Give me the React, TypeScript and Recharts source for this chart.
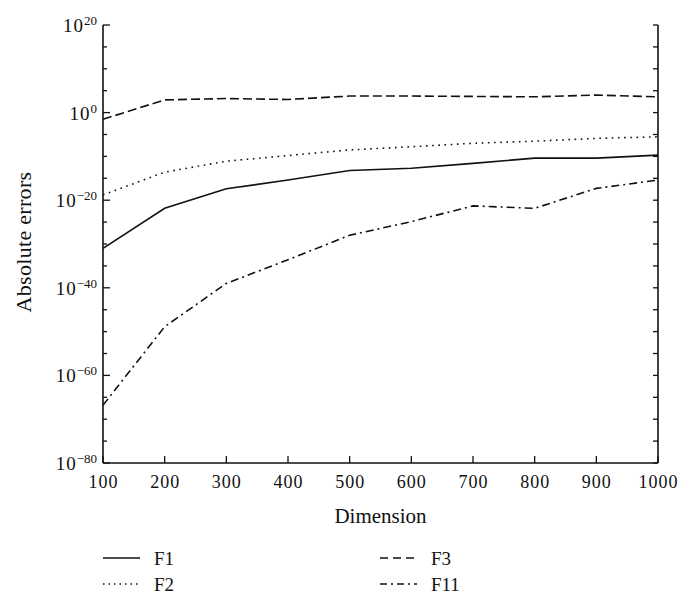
import React from 'react';
import { LineChart, Line, XAxis, YAxis } from 'recharts';

const dimensions = [100, 200, 300, 400, 500, 600, 700, 800, 900, 1000];
const f1Errors = [1e-31, 1.4e-22, 4e-18, 4e-16, 6e-14, 2e-13, 2.5e-12, 4e-11, 4e-11, 2e-10];
const f2Errors = [1.6e-19, 2.5e-14, 8e-12, 1.6e-10, 3e-9, 1.6e-8, 1e-7, 3e-7, 1.3e-6, 3e-6];
const f3Errors = [0.03, 800, 1600, 1000, 6000, 6000, 5000, 4000, 1e4, 4000];
const f11Errors = [1.6e-67, 1.3e-49, 1e-39, 2.5e-34, 1e-28, 1.3e-25, 5e-22, 1.4e-22, 5e-18, 4e-16];

const xTicks = [100, 200, 300, 400, 500, 600, 700, 800, 900, 1000];
const yTicks = [
  1e-80, 1e-75, 1e-70, 1e-65, 1e-60, 1e-55, 1e-50, 1e-45, 1e-40, 1e-35, 1e-30,
  1e-25, 1e-20, 1e-15, 1e-10, 1e-5, 1e0, 1e5, 1e10, 1e15, 1e20,
];

const seriesNames = ['F1', 'F2', 'F3', 'F11'];

const data = dimensions.map((d, i) => ({
  dim: d,
  F1: f1Errors[i],
  F2: f2Errors[i],
  F3: f3Errors[i],
  F11: f11Errors[i],
}));

const FONT = '"Liberation Serif", "Times New Roman", serif';
const M = 8;
const INK = '#111';

const dashes: Record<string, string | undefined> = {
  F1: undefined,
  F2: '1.6 4.6',
  F3: '9 4',
  F11: '8 4 2 4',
};

function fmtExp(e: number) {
  return e < 0 ? '\u2212' + String(-e) : String(e);
}

function BottomTick(props: any) {
  const { x, y, payload } = props;
  const ay = y - M;
  return (
    <g>
      <line x1={x} y1={ay} x2={x} y2={ay - 7} stroke={INK} strokeWidth={1.3} />
      <text x={x + 0.5} y={ay + 25} textAnchor="middle" fontFamily={FONT} fontSize={18} letterSpacing={1} fill={INK}>
        {payload.value}
      </text>
    </g>
  );
}

function TopTick(props: any) {
  const { x, y } = props;
  const ay = y + M;
  return <line x1={x} y1={ay} x2={x} y2={ay + 7} stroke={INK} strokeWidth={1.3} />;
}

function LeftTick(props: any) {
  const { x, y, payload } = props;
  const ax = x + M;
  const exp = Math.round(Math.log10(payload.value));
  const major = exp % 20 === 0;
  return (
    <g>
      <line x1={ax} y1={y} x2={ax + (major ? 7 : 4)} y2={y} stroke={INK} strokeWidth={1.3} />
      {major && (
        <text x={ax - 6} y={y + 7} textAnchor="end" fontFamily={FONT} fontSize={19} fill={INK}>
          <tspan letterSpacing={1}>10</tspan>
          <tspan dy={-7} fontSize={13}>{fmtExp(exp)}</tspan>
        </text>
      )}
    </g>
  );
}

function RightTick(props: any) {
  const { x, y } = props;
  const ax = x - M;
  return <line x1={ax} y1={y} x2={ax - 5} y2={y} stroke={INK} strokeWidth={1.3} />;
}

function YLabel(props: any) {
  const vb = props.viewBox || {};
  const cx = (vb.x || 0) + 23.5;
  const cy = (vb.y || 0) + (vb.height || 0) / 2 - 2;
  return (
    <text
      x={cx}
      y={cy}
      transform={`rotate(-90 ${cx} ${cy})`}
      textAnchor="middle"
      dominantBaseline="central"
      fontFamily={FONT}
      fontSize={22}
      letterSpacing={0.3}
      fill={INK}
    >
      Absolute errors
    </text>
  );
}

function LegendOverlay() {
  const cols = [103, 380];
  const rows = [558, 584];
  const items = [
    { name: 'F1', c: 0, r: 0 },
    { name: 'F2', c: 0, r: 1 },
    { name: 'F3', c: 1, r: 0 },
    { name: 'F11', c: 1, r: 1 },
  ];
  const legendDash: Record<string, string | undefined> = {
    F1: undefined,
    F2: '1.5 4',
    F3: '8 5',
    F11: '7 4 2 4',
  };
  return (
    <svg width={693} height={606} style={{ position: 'absolute', left: 0, top: 0, pointerEvents: 'none' }}>
      {items.map((it) => {
        const lx = cols[it.c];
        const ly = rows[it.r];
        return (
          <g key={it.name}>
            <line x1={lx} y1={ly} x2={lx + 37} y2={ly} stroke={INK} strokeWidth={1.4} strokeDasharray={legendDash[it.name]} />
            <text x={lx + 51} y={ly + 6.5} fontFamily={FONT} fontSize={19} fill={INK}>
              {it.name}
            </text>
          </g>
        );
      })}
    </svg>
  );
}

export default function App() {
  return (
    <div style={{ position: 'absolute', left: 0, top: 0, width: 693, height: 606, background: '#fff' }}>
      <LineChart width={693} height={606} data={data} margin={{ top: 25, right: 0, left: 0, bottom: 113 }}>
        <XAxis
          dataKey="dim"
          type="number"
          domain={[100, 1000]}
          ticks={xTicks}
          tickSize={0}
          tickMargin={M}
          tickLine={false}
          axisLine={{ stroke: INK, strokeWidth: 1.6 }}
          tick={<BottomTick />}
          height={30}
          interval={0}
          label={{ value: 'Dimension', position: 'bottom', offset: 15, fontFamily: FONT, fontSize: 21, fill: INK }}
        />
        <XAxis
          xAxisId="top"
          orientation="top"
          dataKey="dim"
          type="number"
          domain={[100, 1000]}
          ticks={xTicks}
          tickSize={0}
          tickMargin={M}
          tickLine={false}
          axisLine={{ stroke: INK, strokeWidth: 1.6 }}
          tick={<TopTick />}
          height={0}
          interval={0}
          allowDataOverflow
        />
        <YAxis
          scale="log"
          type="number"
          domain={[1e-80, 1e20]}
          ticks={yTicks}
          tickSize={0}
          tickMargin={M}
          tickLine={false}
          axisLine={{ stroke: INK, strokeWidth: 1.6 }}
          tick={<LeftTick />}
          width={103}
          interval={0}
          allowDataOverflow
          label={<YLabel />}
        />
        <YAxis
          yAxisId="right"
          orientation="right"
          scale="log"
          type="number"
          domain={[1e-80, 1e20]}
          ticks={yTicks}
          tickSize={0}
          tickMargin={M}
          tickLine={false}
          axisLine={{ stroke: INK, strokeWidth: 1.6 }}
          tick={<RightTick />}
          width={35}
          interval={0}
          allowDataOverflow
        />
        {seriesNames.map((name) => (
          <Line
            key={name}
            dataKey={name}
            type="linear"
            stroke={INK}
            strokeWidth={1.6}
            strokeDasharray={dashes[name]}
            dot={false}
            activeDot={false}
            isAnimationActive={false}
          />
        ))}
      </LineChart>
      <LegendOverlay />
    </div>
  );
}
